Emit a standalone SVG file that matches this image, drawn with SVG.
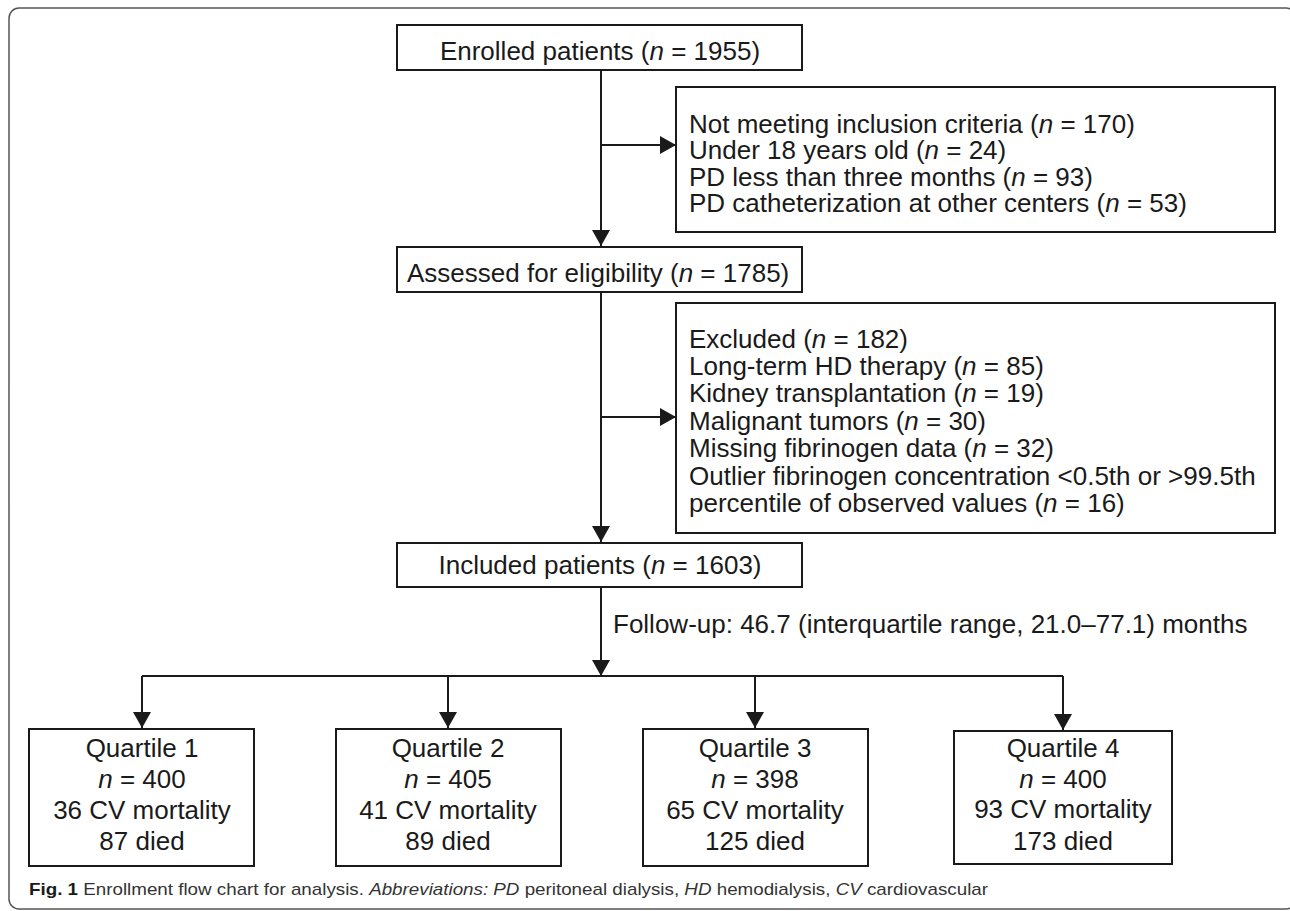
<svg xmlns="http://www.w3.org/2000/svg" width="1290" height="911" viewBox="0 0 1290 911">
<style>
  .box { fill: #ffffff; stroke: #1a1a1a; stroke-width: 2; }
  .t { font-family: "Liberation Sans", Arial, sans-serif; font-size: 26px; fill: #1a1a1a; }
  .c { text-anchor: middle; }
  .i { font-style: italic; }
  .conn { stroke: #1a1a1a; stroke-width: 2; fill: none; }
  .cap { font-family: "Liberation Sans", Arial, sans-serif; font-size: 17px; fill: #333333; }
</style>
<defs>
  <marker id="ah" viewBox="0 0 16 18" refX="16" refY="9" markerWidth="16" markerHeight="18" markerUnits="userSpaceOnUse" orient="auto">
    <path d="M0,0 L16,9 L0,18 z" fill="#1a1a1a"/>
  </marker>
</defs>
<rect x="0" y="0" width="1290" height="911" fill="#ffffff"/>
<rect x="9" y="8" width="1287" height="901" rx="10" ry="10" fill="none" stroke="#555555" stroke-width="1.5"/>

<g id="connectors">
  <line class="conn" x1="601" y1="70" x2="601" y2="246" marker-end="url(#ah)"/>
  <line class="conn" x1="601" y1="145" x2="676" y2="145" marker-end="url(#ah)"/>
  <line class="conn" x1="601" y1="292" x2="601" y2="542" marker-end="url(#ah)"/>
  <line class="conn" x1="601" y1="417" x2="676" y2="417" marker-end="url(#ah)"/>
  <line class="conn" x1="601" y1="587" x2="601" y2="676" marker-end="url(#ah)"/>
  <line class="conn" x1="142" y1="676" x2="1063" y2="676"/>
  <line class="conn" x1="142" y1="676" x2="142" y2="728" marker-end="url(#ah)"/>
  <line class="conn" x1="448" y1="676" x2="448" y2="728" marker-end="url(#ah)"/>
  <line class="conn" x1="755" y1="676" x2="755" y2="728" marker-end="url(#ah)"/>
  <line class="conn" x1="1063" y1="676" x2="1063" y2="730" marker-end="url(#ah)"/>
  <text class="t" x="613" y="633">Follow-up: 46.7 (interquartile range, 21.0–77.1) months</text>
</g>

<g id="enrolled">
  <rect class="box" x="397" y="25" width="405" height="45"/>
  <text class="t c" x="600" y="60">Enrolled patients (<tspan class="i">n</tspan> = 1955)</text>
</g>

<g id="not-meeting">
  <rect class="box" x="676" y="87" width="599" height="145"/>
  <text class="t" x="689" y="133">Not meeting inclusion criteria (<tspan class="i">n</tspan> = 170)</text>
  <text class="t" x="689" y="159">Under 18 years old (<tspan class="i">n</tspan> = 24)</text>
  <text class="t" x="689" y="186">PD less than three months (<tspan class="i">n</tspan> = 93)</text>
  <text class="t" x="689" y="212">PD catheterization at other centers (<tspan class="i">n</tspan> = 53)</text>
</g>

<g id="assessed">
  <rect class="box" x="397" y="247" width="405" height="45"/>
  <text class="t" x="407" y="282">Assessed for eligibility (<tspan class="i">n</tspan> = 1785)</text>
</g>

<g id="excluded">
  <rect class="box" x="676" y="303" width="599" height="230"/>
  <text class="t" x="689" y="348">Excluded (<tspan class="i">n</tspan> = 182)</text>
  <text class="t" x="689" y="375">Long-term HD therapy (<tspan class="i">n</tspan> = 85)</text>
  <text class="t" x="689" y="402">Kidney transplantation (<tspan class="i">n</tspan> = 19)</text>
  <text class="t" x="689" y="430">Malignant tumors (<tspan class="i">n</tspan> = 30)</text>
  <text class="t" x="689" y="457">Missing fibrinogen data (<tspan class="i">n</tspan> = 32)</text>
  <text class="t" x="689" y="485">Outlier fibrinogen concentration &lt;0.5th or &gt;99.5th</text>
  <text class="t" x="689" y="512">percentile of observed values (<tspan class="i">n</tspan> = 16)</text>
</g>

<g id="included">
  <rect class="box" x="397" y="543" width="405" height="44"/>
  <text class="t c" x="600" y="574">Included patients (<tspan class="i">n</tspan> = 1603)</text>
</g>

<g id="q1">
  <rect class="box" x="29" y="729" width="225" height="137"/>
  <text class="t c" x="142" y="757">Quartile 1</text>
  <text class="t c" x="142" y="788"><tspan class="i">n</tspan> = 400</text>
  <text class="t c" x="142" y="819">36 CV mortality</text>
  <text class="t c" x="142" y="850">87 died</text>
</g>

<g id="q2">
  <rect class="box" x="336" y="729" width="225" height="137"/>
  <text class="t c" x="448" y="757">Quartile 2</text>
  <text class="t c" x="448" y="788"><tspan class="i">n</tspan> = 405</text>
  <text class="t c" x="448" y="819">41 CV mortality</text>
  <text class="t c" x="448" y="850">89 died</text>
</g>

<g id="q3">
  <rect class="box" x="643" y="729" width="225" height="137"/>
  <text class="t c" x="755" y="757">Quartile 3</text>
  <text class="t c" x="755" y="788"><tspan class="i">n</tspan> = 398</text>
  <text class="t c" x="755" y="819">65 CV mortality</text>
  <text class="t c" x="755" y="850">125 died</text>
</g>

<g id="q4">
  <rect class="box" x="954" y="731" width="218" height="133"/>
  <text class="t c" x="1063" y="757">Quartile 4</text>
  <text class="t c" x="1063" y="788"><tspan class="i">n</tspan> = 400</text>
  <text class="t c" x="1063" y="818">93 CV mortality</text>
  <text class="t c" x="1063" y="850">173 died</text>
</g>

<g id="caption">
  <text class="cap" x="29" y="895" textLength="959" lengthAdjust="spacingAndGlyphs"><tspan font-weight="bold" fill="#1a1a1a">Fig. 1</tspan> Enrollment flow chart for analysis. <tspan class="i">Abbreviations: PD</tspan> peritoneal dialysis, <tspan class="i">HD</tspan> hemodialysis, <tspan class="i">CV</tspan> cardiovascular</text>
</g>
</svg>
